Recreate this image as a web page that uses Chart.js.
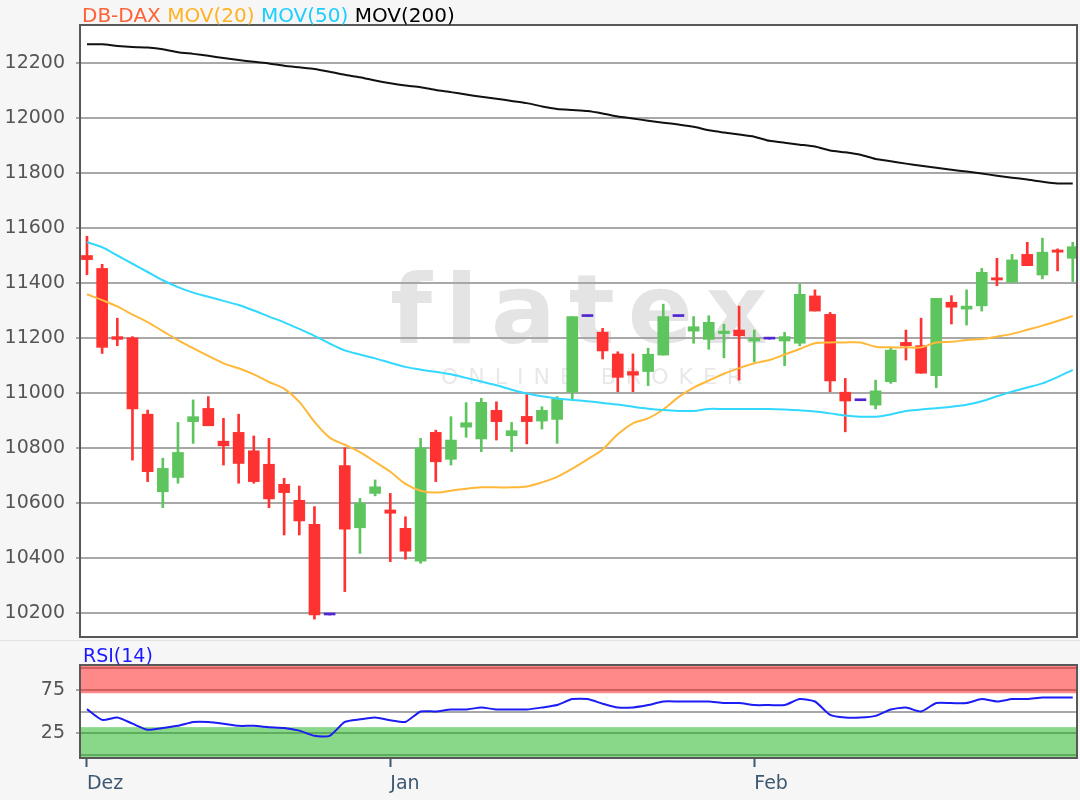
<!DOCTYPE html>
<html>
<head>
<meta charset="utf-8">
<script src="https://cdn.jsdelivr.net/npm/chart.js@4.4.1/dist/chart.umd.min.js"></script>
<style>
  html, body { margin: 0; padding: 0; background: #f6f6f6; }
  #wrap { position: relative; width: 1080px; height: 800px; overflow: hidden; font-family: "DejaVu Sans", sans-serif; }
  canvas { position: absolute; left: 0; }
  #title { position: absolute; left: 82px; top: 3px; font-size: 20px; line-height: 24px; white-space: nowrap; }
  #rsiLabel { position: absolute; left: 83px; top: 644px; font-size: 19px; line-height: 22px; color: #1a1aff; white-space: nowrap; }
  #sep { position: absolute; left: 0; top: 640px; width: 1080px; height: 1px; background: #e2e2e2; }
</style>
</head>
<body>
<div id="wrap">
  <canvas id="main" width="1080" height="660" style="top:0"></canvas>
  <div id="sep"></div>
  <canvas id="rsi" width="1080" height="160" style="top:640px"></canvas>
  <div id="title"><span style="color:#ff6236">DB-DAX</span> <span style="color:#ffb222">MOV(20)</span> <span style="color:#1ccfff">MOV(50)</span> <span style="color:#000">MOV(200)</span></div>
  <div id="rsiLabel">RSI(14)</div>
</div>
<script>
// ---------- data ----------
const OPEN  = [11500,11453,11205,11201,10923,10641,10693,10896,10944,10825,10857,10790,10741,10668,10610,10523,10193,10736,10510,10635,10575,10508,10389,10857,10759,10876,10833,10937,10845,10915,10898,10904,11003,11278,11221,11142,11078,11078,11138,11278,11225,11195,11216,11229,11189,11196,11189,11181,11353,11286,11003,10972,10956,11041,11184,11172,11063,11330,11305,11317,11419,11403,11504,11429,11520,11490];
const HIGH  = [11570,11468,11272,11205,10938,10763,10893,10975,10987,10908,10923,10844,10835,10690,10662,10587,10193,10801,10617,10684,10635,10550,10835,10865,10914,10965,10981,10968,10893,10995,10950,10987,11278,11278,11235,11150,11142,11163,11323,11278,11278,11281,11250,11316,11229,11196,11221,11395,11375,11293,11053,10972,11047,11165,11229,11272,11344,11354,11375,11453,11490,11504,11548,11563,11524,11548];
const LOW   = [11430,11144,11172,10756,10678,10583,10672,10817,10881,10738,10672,10672,10583,10484,10484,10178,10193,10278,10417,10626,10387,10396,10381,10678,10738,10839,10787,10829,10787,10815,10869,10817,10978,11278,11124,11005,11005,11027,11138,11278,11181,11159,11128,11047,11114,11196,11099,11172,11298,11005,10859,10972,10942,11035,11120,11072,11019,11251,11247,11298,11390,11403,11463,11415,11444,11405];
const CLOSE = [11485,11166,11195,10942,10714,10726,10784,10914,10881,10808,10744,10678,10615,10638,10535,10193,10193,10505,10599,10659,10563,10425,10801,10750,10829,10892,10966,10896,10863,10896,10937,10978,11278,11278,11153,11057,11065,11141,11278,11278,11241,11257,11225,11208,11199,11196,11205,11359,11298,11044,10971,10972,11008,11156,11172,11072,11344,11312,11316,11439,11411,11484,11463,11512,11512,11532];

const MA20  = [11359,11338,11315,11285,11258,11225,11192,11163,11135,11108,11090,11068,11040,11016,10968,10895,10838,10812,10785,10750,10714,10670,10645,10638,10645,10652,10657,10657,10657,10660,10675,10695,10725,10759,10795,10850,10890,10908,10940,10985,11020,11045,11070,11090,11108,11120,11140,11160,11181,11184,11184,11184,11168,11166,11166,11166,11184,11186,11193,11196,11205,11215,11230,11245,11262,11280];
const MA50  = [11548,11530,11500,11470,11440,11410,11385,11365,11350,11335,11320,11300,11278,11257,11233,11208,11180,11155,11140,11126,11110,11095,11085,11077,11068,11055,11042,11028,11012,10998,10988,10980,10975,10970,10964,10958,10950,10943,10938,10935,10935,10942,10942,10942,10942,10942,10940,10937,10933,10926,10918,10914,10914,10922,10935,10940,10945,10950,10957,10970,10988,11005,11020,11035,11058,11084];
const MA200 = [12268,12268,12262,12258,12256,12250,12239,12233,12226,12218,12211,12204,12198,12190,12184,12178,12168,12157,12148,12136,12126,12118,12112,12102,12094,12085,12077,12070,12062,12054,12042,12033,12029,12025,12016,12005,11998,11990,11983,11976,11968,11955,11947,11940,11932,11917,11910,11903,11896,11882,11875,11866,11851,11843,11834,11826,11819,11812,11805,11798,11790,11783,11776,11768,11762,11762];

const RSI   = [52.8,40.4,43,36,29,31,33.5,38,38,36,33.5,33.5,32,31,28,22,22,38,41,43,40,38,50,50,52.3,52.3,54.6,52.3,52.3,52.3,54.6,57.4,64.3,64.3,59,54.6,54.6,57.4,61.5,61.5,61.5,61.5,59.7,59.7,57.4,57.4,57.4,64.3,61.5,46.2,43,43,45,52.3,54.6,50,59.7,59.7,59.7,64.3,61.5,64.3,64.3,66.1,66.1,66.1];

// trading-day positions (categories) and month tick labels
const DAYS = CLOSE.map((_, i) => i);
const X_TICK_POS = [0, 20, 44];
const X_TICK_LABELS = ['Dez', 'Jan', 'Feb'];
const Y_TICKS = [10200, 10400, 10600, 10800, 11000, 11200, 11400, 11600, 11800, 12000, 12200];
const RSI_GRID = [0, 25, 50, 75, 100];
const RSI_LABELED = [25, 75];
const RSI_ZONE_HIGH = [71, 103.5];
const RSI_ZONE_LOW = [-3.5, 32];

// ---------- styling ----------
const UP = '#5ec55e', DOWN = '#ff3232', FLAT = '#5126d2';
const candleColor = i => CLOSE[i] > OPEN[i] ? UP : (CLOSE[i] < OPEN[i] ? DOWN : FLAT);
const X_MIN = -0.46, X_MAX = 65.28;
const GRID = '#a8a8a8';
const FONT = '"DejaVu Sans", sans-serif';

Chart.defaults.font.family = FONT;
Chart.defaults.font.size = 19;
Chart.defaults.color = '#555';

const panelPlugin = {
  id: 'panel',
  beforeDraw(chart, args, opts) {
    const { ctx, chartArea: a } = chart;
    ctx.save();
    ctx.fillStyle = '#ffffff';
    ctx.fillRect(a.left, a.top, a.width, a.height);
    if (opts.watermark) {
      const cx = (a.left + a.right) / 2;
      ctx.textAlign = 'center';
      ctx.textBaseline = 'alphabetic';
      ctx.fillStyle = '#e4e4e4';
      ctx.font = '600 96px ' + FONT;
      try { ctx.letterSpacing = '13px'; } catch (e) {}
      ctx.fillText('flatex', cx + 7, a.top + a.height * 0.52);
      ctx.fillStyle = '#e8e8e8';
      ctx.font = '22px ' + FONT;
      try { ctx.letterSpacing = '10px'; } catch (e) {}
      ctx.textBaseline = 'middle';
      ctx.fillText('ONLINE BROKER', cx + 18, a.top + a.height * 0.577);
    }
    ctx.restore();
  },
  beforeDatasetsDraw(chart, args, opts) {
    if (!opts.zones) return;
    const { ctx, chartArea: a, scales: { y } } = chart;
    ctx.save();
    opts.zones.forEach(z => {
      const y1 = y.getPixelForValue(z.range[1]);
      const y0 = y.getPixelForValue(z.range[0]);
      ctx.fillStyle = z.color;
      ctx.fillRect(a.left, Math.max(a.top, y1), a.width, Math.min(a.bottom, y0) - Math.max(a.top, y1));
    });
    ctx.restore();
  },
  afterDraw(chart) {
    const { ctx, chartArea: a } = chart;
    ctx.save();
    ctx.strokeStyle = '#585858';
    ctx.lineWidth = 2;
    ctx.strokeRect(a.left, a.top, a.width, a.height);
    ctx.restore();
  }
};

const fixWidth = s => { s.width = 80; };

// ---------- main price chart ----------
new Chart(document.getElementById('main'), {
  type: 'bar',
  data: {
    datasets: [
      { type: 'line', label: 'MOV(200)', data: DAYS.map(i => ({ x: i, y: MA200[i] })), borderColor: '#111', borderWidth: 2, pointRadius: 0, tension: 0.2, order: 1 },
      { type: 'line', label: 'MOV(50)', data: DAYS.map(i => ({ x: i, y: MA50[i] })), borderColor: '#33d8ff', borderWidth: 2, pointRadius: 0, tension: 0.3, order: 1 },
      { type: 'line', label: 'MOV(20)', data: DAYS.map(i => ({ x: i, y: MA20[i] })), borderColor: '#ffb83a', borderWidth: 2, pointRadius: 0, tension: 0.3, order: 1 },
      { type: 'bar', label: 'DB-DAX', data: DAYS.map(i => ({ x: i, y: [OPEN[i], CLOSE[i]] })), backgroundColor: DAYS.map(candleColor), borderWidth: 0, barThickness: 11, minBarLength: 2, grouped: false, order: 2 },
      { type: 'bar', label: 'DB-DAX Spanne', data: DAYS.map(i => ({ x: i, y: [LOW[i], HIGH[i]] })), backgroundColor: DAYS.map(candleColor), borderWidth: 0, barThickness: 2, grouped: false, order: 3 }
    ]
  },
  options: {
    responsive: false,
    animation: false,
    devicePixelRatio: 1,
    layout: { padding: { top: 25, right: 3, bottom: 23, left: 0 } },
    plugins: { legend: { display: false }, tooltip: { enabled: false }, panel: { watermark: true } },
    scales: {
      x: { type: 'linear', display: false, min: X_MIN, max: X_MAX, offset: false, grid: { display: false } },
      y: {
        type: 'linear', min: 10113, max: 12338, beginAtZero: false,
        afterFit: fixWidth,
        afterBuildTicks: s => { s.ticks = Y_TICKS.map(v => ({ value: v })); },
        border: { display: false },
        grid: { color: GRID, lineWidth: 2, tickLength: 4, tickColor: GRID },
        ticks: { padding: 11, autoSkip: false, color: '#555', font: { size: 19 }, callback: v => String(v) }
      }
    }
  },
  plugins: [panelPlugin]
});

// ---------- RSI chart ----------
new Chart(document.getElementById('rsi'), {
  type: 'line',
  data: {
    datasets: [
      { label: 'RSI(14)', data: DAYS.map(i => ({ x: i, y: RSI[i] })), borderColor: '#1c1cf5', borderWidth: 2, pointRadius: 0, tension: 0.2 }
    ]
  },
  options: {
    responsive: false,
    animation: false,
    devicePixelRatio: 1,
    layout: { padding: { top: 25, right: 3, bottom: 0, left: 0 } },
    plugins: {
      legend: { display: false }, tooltip: { enabled: false },
      panel: { zones: [
        { range: RSI_ZONE_HIGH, color: 'rgba(255,20,20,0.5)' },
        { range: RSI_ZONE_LOW, color: 'rgba(20,175,20,0.5)' }
      ] }
    },
    scales: {
      x: {
        type: 'linear', min: X_MIN, max: X_MAX, offset: false,
        afterFit: s => { s.height = 42; },
        afterBuildTicks: s => { s.ticks = X_TICK_POS.map(v => ({ value: v })); },
        border: { display: false },
        grid: { drawOnChartArea: false, drawTicks: true, tickLength: 9, tickColor: '#3e5872', tickWidth: 2 },
        ticks: { align: 'start', padding: 6, autoSkip: false, maxRotation: 0, color: '#3e5872', font: { size: 19 },
          callback: v => X_TICK_LABELS[X_TICK_POS.indexOf(v)] }
      },
      y: {
        type: 'linear', min: -3.5, max: 103.5,
        afterFit: fixWidth,
        afterBuildTicks: s => { s.ticks = RSI_GRID.map(v => ({ value: v })); },
        border: { display: false },
        grid: { color: GRID, lineWidth: 2, tickLength: 4,
          tickColor: c => RSI_LABELED.includes(c.tick && c.tick.value) ? GRID : 'rgba(0,0,0,0)' },
        ticks: { padding: 11, autoSkip: false, color: '#555', font: { size: 19 },
          callback: v => RSI_LABELED.includes(v) ? String(v) : '' }
      }
    }
  },
  plugins: [panelPlugin]
});
</script>
</body>
</html>
